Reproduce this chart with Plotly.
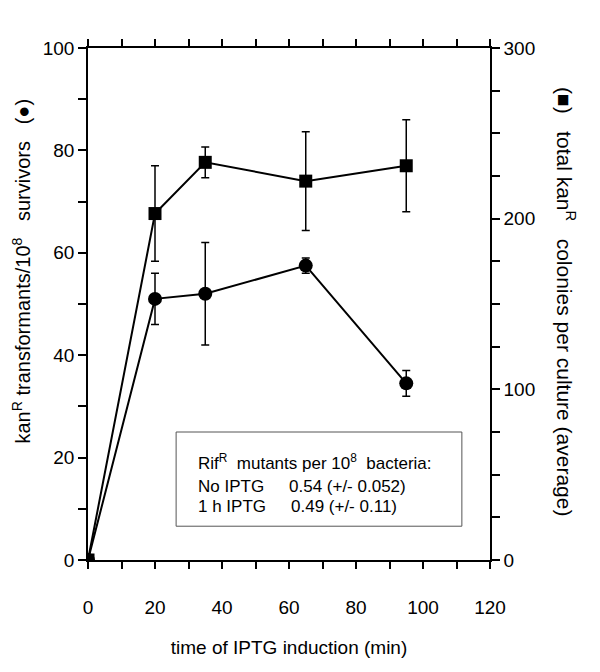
import plotly.graph_objects as go

time_min = [0, 20, 35, 65, 95]
transformants = [0, 51, 52, 57.5, 34.5]
transformants_err = [0, 5, 10, 1.5, 2.5]
colonies = [0, 203, 233, 222, 231]
colonies_err = [0, 28, 9, 29, 27]

x_ticks = [0, 20, 40, 60, 80, 100, 120]
left_ticks = [0, 20, 40, 60, 80, 100]
right_ticks = [0, 100, 200, 300]

FONT = "Liberation Sans, Arial, sans-serif"
fig = go.Figure()

fig.add_trace(go.Scatter(
    x=time_min, y=colonies, yaxis="y2", mode="lines+markers",
    line=dict(color="black", width=2),
    marker=dict(symbol="square", size=13, color="black"),
    error_y=dict(type="data", array=colonies_err, visible=True,
                 color="black", thickness=1.5, width=4),
    showlegend=False,
))
fig.add_trace(go.Scatter(
    x=time_min, y=transformants, mode="lines+markers",
    line=dict(color="black", width=2),
    marker=dict(symbol="circle", size=14, color="black"),
    error_y=dict(type="data", array=transformants_err, visible=True,
                 color="black", thickness=1.5, width=4),
    showlegend=False,
))

fig.update_layout(
    width=600, height=672,
    margin=dict(l=80, r=118, t=40, b=120),
    paper_bgcolor="white", plot_bgcolor="white",
    font=dict(family=FONT, color="black", size=19),
    xaxis=dict(
        range=[0, 120], tickvals=x_ticks, ticktext=[str(v) for v in x_ticks],
        showgrid=False, zeroline=False, showline=True, linecolor="black",
        linewidth=1.5, mirror="ticks", ticks="outside", ticklen=7,
        tickwidth=1.5, tickcolor="black", ticklabelstandoff=22,
        minor=dict(dtick=10, tick0=0, ticks="outside", ticklen=7,
                   tickwidth=1.5, tickcolor="black", showgrid=False),
        title=dict(text="time of IPTG induction (min)", standoff=24,
                   font=dict(size=19)),
        automargin=False,
    ),
    yaxis=dict(
        range=[0, 100], tickvals=left_ticks,
        showgrid=False, zeroline=False, showline=True, linecolor="black",
        linewidth=1.5, ticks="outside", ticklen=8, tickwidth=1.5,
        tickcolor="black", automargin=False,
        minor=dict(dtick=10, tick0=0, ticks="outside", ticklen=8,
                   tickwidth=1.5, tickcolor="black", showgrid=False),
    ),
    yaxis2=dict(
        range=[0, 300], tickvals=right_ticks, overlaying="y", side="right",
        showgrid=False, zeroline=False, showline=True, linecolor="black",
        linewidth=1.5, ticks="outside", ticklen=8, tickwidth=1.5,
        tickcolor="black", automargin=False,
        minor=dict(dtick=25, tick0=0, ticks="outside", ticklen=8,
                   tickwidth=1.5, tickcolor="black", showgrid=False),
    ),
)

fig.add_annotation(
    text="kan<sup>R</sup> transformants/10<sup>8</sup>   survivors   (●)",
    xref="paper", yref="paper", x=-0.166, y=0.564, xanchor="center",
    yanchor="middle", textangle=-90, showarrow=False, font=dict(size=20),
)
fig.add_annotation(
    text="(■)   total kan<sup>R</sup>   colonies per culture (average)",
    xref="paper", yref="paper", x=1.189, y=0.504, xanchor="center",
    yanchor="middle", textangle=90, showarrow=False, font=dict(size=21),
)

# text box
fig.add_shape(type="rect", xref="x", yref="y", x0=26.3, x1=111.6,
              y0=6.6, y1=25.0, line=dict(color="#555555", width=1),
              fillcolor="white")
box_font = dict(size=17)
fig.add_annotation(text="Rif<sup>R</sup>  mutants per 10<sup>8</sup>  bacteria:",
                   xref="x", yref="y", x=32.2, y=19.2, xanchor="left",
                   yanchor="middle", showarrow=False, font=box_font)
fig.add_annotation(text="No IPTG", xref="x", yref="y", x=32.2, y=14.4,
                   xanchor="left", yanchor="middle", showarrow=False,
                   font=box_font)
fig.add_annotation(text="1 h IPTG", xref="x", yref="y", x=32.2, y=10.4,
                   xanchor="left", yanchor="middle", showarrow=False,
                   font=box_font)
fig.add_annotation(text="0.54 (+/- 0.052)", xref="x", yref="y", x=59.4,
                   y=14.4, xanchor="left", yanchor="middle",
                   showarrow=False, font=box_font)
fig.add_annotation(text="0.49 (+/- 0.11)", xref="x", yref="y", x=60.0,
                   y=10.4, xanchor="left", yanchor="middle",
                   showarrow=False, font=box_font)

fig.write_html("out.html")
